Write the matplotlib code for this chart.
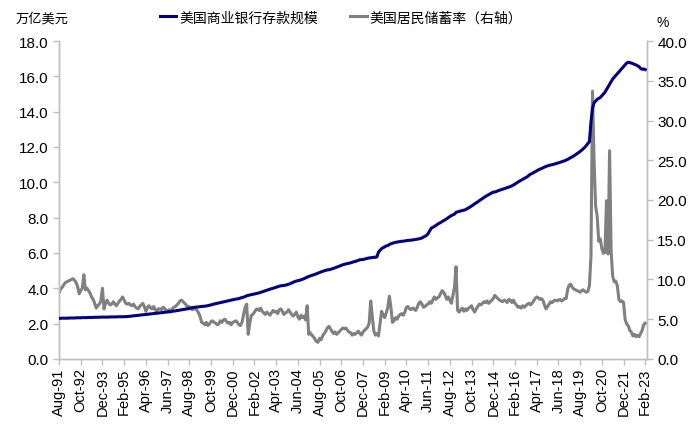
import matplotlib
matplotlib.use("Agg")
import matplotlib.pyplot as plt
import numpy as np
import pandas as pd

plt.rcParams['font.family'] = ['Liberation Sans', 'Noto Sans CJK SC', 'DejaVu Sans']

# Monthly data, Aug-1991 .. Feb-2023
deposits_by_year = {
    1991: [2.30, 2.30, 2.31, 2.31, 2.31],
    1992: [2.31, 2.31, 2.32, 2.32, 2.32, 2.32, 2.33, 2.33, 2.33, 2.33, 2.34, 2.34],
    1993: [2.34, 2.34, 2.35, 2.35, 2.35, 2.35, 2.36, 2.36, 2.36, 2.36, 2.37, 2.37],
    1994: [2.37, 2.37, 2.37, 2.37, 2.38, 2.38, 2.38, 2.38, 2.38, 2.39, 2.39, 2.39],
    1995: [2.39, 2.39, 2.40, 2.40, 2.41, 2.42, 2.43, 2.44, 2.45, 2.46, 2.47, 2.48],
    1996: [2.49, 2.50, 2.51, 2.52, 2.53, 2.54, 2.55, 2.56, 2.57, 2.58, 2.59, 2.60],
    1997: [2.61, 2.62, 2.63, 2.64, 2.65, 2.66, 2.67, 2.68, 2.70, 2.71, 2.72, 2.74],
    1998: [2.75, 2.77, 2.78, 2.80, 2.81, 2.83, 2.84, 2.86, 2.88, 2.90, 2.92, 2.93],
    1999: [2.94, 2.95, 2.96, 2.97, 2.98, 2.99, 3.00, 3.02, 3.04, 3.06, 3.09, 3.11],
    2000: [3.13, 3.15, 3.17, 3.19, 3.21, 3.23, 3.25, 3.27, 3.29, 3.31, 3.33, 3.35],
    2001: [3.37, 3.39, 3.40, 3.42, 3.45, 3.48, 3.50, 3.53, 3.58, 3.60, 3.62, 3.64],
    2002: [3.66, 3.68, 3.70, 3.72, 3.74, 3.77, 3.80, 3.83, 3.86, 3.89, 3.92, 3.95],
    2003: [3.98, 4.00, 4.03, 4.06, 4.09, 4.12, 4.14, 4.15, 4.16, 4.18, 4.20, 4.23],
    2004: [4.26, 4.30, 4.34, 4.38, 4.41, 4.43, 4.45, 4.48, 4.51, 4.55, 4.59, 4.63],
    2005: [4.67, 4.70, 4.73, 4.76, 4.79, 4.82, 4.86, 4.89, 4.93, 4.96, 4.99, 5.02],
    2006: [5.04, 5.05, 5.07, 5.10, 5.13, 5.16, 5.20, 5.23, 5.26, 5.30, 5.33, 5.36],
    2007: [5.38, 5.40, 5.42, 5.44, 5.47, 5.50, 5.52, 5.55, 5.58, 5.62, 5.62, 5.63],
    2008: [5.65, 5.68, 5.70, 5.72, 5.73, 5.74, 5.76, 5.75, 5.78, 6.05, 6.15, 6.25],
    2009: [6.30, 6.35, 6.40, 6.42, 6.48, 6.52, 6.55, 6.58, 6.60, 6.62, 6.63, 6.65],
    2010: [6.66, 6.67, 6.68, 6.70, 6.71, 6.72, 6.72, 6.74, 6.75, 6.77, 6.78, 6.80],
    2011: [6.82, 6.85, 6.90, 6.95, 7.00, 7.10, 7.25, 7.40, 7.45, 7.50, 7.56, 7.62],
    2012: [7.68, 7.72, 7.78, 7.83, 7.88, 7.94, 8.00, 8.06, 8.12, 8.16, 8.20, 8.30],
    2013: [8.33, 8.35, 8.38, 8.40, 8.42, 8.45, 8.50, 8.55, 8.60, 8.66, 8.72, 8.78],
    2014: [8.84, 8.90, 8.96, 9.02, 9.08, 9.14, 9.20, 9.25, 9.30, 9.35, 9.40, 9.45],
    2015: [9.45, 9.48, 9.52, 9.55, 9.58, 9.61, 9.64, 9.67, 9.70, 9.73, 9.76, 9.80],
    2016: [9.85, 9.90, 9.96, 10.02, 10.07, 10.12, 10.17, 10.22, 10.27, 10.32, 10.40, 10.46],
    2017: [10.50, 10.55, 10.60, 10.65, 10.70, 10.74, 10.78, 10.82, 10.86, 10.90, 10.93, 10.96],
    2018: [10.98, 11.00, 11.02, 11.05, 11.08, 11.10, 11.13, 11.16, 11.19, 11.22, 11.26, 11.30],
    2019: [11.35, 11.40, 11.45, 11.50, 11.56, 11.62, 11.68, 11.75, 11.82, 11.90, 11.98, 12.08],
    2020: [12.20, 12.30, 13.40, 14.20, 14.50, 14.60, 14.70, 14.75, 14.80, 14.90, 15.00, 15.10],
    2021: [15.25, 15.40, 15.55, 15.70, 15.85, 15.95, 16.05, 16.15, 16.25, 16.35, 16.45, 16.55],
    2022: [16.65, 16.75, 16.80, 16.78, 16.75, 16.72, 16.68, 16.65, 16.60, 16.55, 16.45, 16.40],
    2023: [16.42, 16.38],
}

saving_rate_by_year = {
    1991: [8.3, 8.8, 9.0, 9.3, 9.6],
    1992: [9.7, 9.8, 9.9, 10.0, 10.1, 9.9, 9.6, 9.1, 8.2, 8.6, 8.9, 10.6],
    1993: [8.7, 8.9, 8.6, 8.3, 7.8, 7.5, 7.0, 6.4, 6.7, 6.9, 7.3, 8.9],
    1994: [6.3, 7.0, 7.4, 7.0, 6.8, 6.9, 7.2, 6.9, 6.7, 7.0, 7.3, 7.5],
    1995: [7.8, 7.4, 7.0, 6.9, 7.0, 6.8, 6.7, 6.9, 6.6, 6.4, 6.3, 6.6],
    1996: [6.8, 7.0, 6.6, 6.0, 6.5, 6.7, 6.4, 6.3, 6.6, 6.2, 6.0, 6.3],
    1997: [6.3, 6.2, 6.5, 6.4, 6.1, 6.0, 6.2, 5.9, 6.3, 6.5, 6.6, 6.8],
    1998: [7.0, 7.3, 7.4, 7.2, 7.0, 6.8, 6.5, 6.6, 6.4, 6.2, 6.3, 6.4],
    1999: [6.1, 5.8, 5.3, 4.6, 4.5, 4.3, 4.6, 4.2, 4.4, 4.7, 4.8, 4.6],
    2000: [4.5, 4.3, 4.4, 4.8, 4.6, 4.9, 5.0, 4.7, 4.5, 4.6, 4.3, 4.6],
    2001: [4.7, 4.8, 4.6, 4.3, 4.2, 4.6, 5.6, 6.5, 6.9, 3.1, 4.5, 5.5],
    2002: [5.6, 5.9, 6.2, 6.3, 6.1, 6.4, 6.0, 5.8, 5.6, 5.9, 5.7, 5.5],
    2003: [5.8, 6.1, 5.9, 6.0, 5.7, 6.2, 6.3, 6.0, 5.6, 5.8, 5.9, 6.2],
    2004: [5.9, 5.6, 5.4, 5.6, 5.9, 5.3, 5.0, 5.5, 5.2, 5.4, 4.9, 6.7],
    2005: [3.1, 3.3, 3.0, 2.8, 2.5, 2.2, 2.1, 2.6, 2.4, 2.9, 3.2, 3.5],
    2006: [3.9, 4.1, 3.8, 3.5, 3.2, 3.4, 3.1, 3.3, 3.5, 3.7, 3.9, 3.8],
    2007: [3.9, 3.6, 3.4, 3.3, 3.0, 3.2, 3.1, 3.3, 3.5, 3.2, 3.0, 3.4],
    2008: [3.6, 3.8, 4.0, 4.5, 7.3, 5.3, 3.5, 3.0, 3.2, 2.9, 4.5, 6.0],
    2009: [5.5, 5.2, 5.8, 6.5, 7.9, 6.5, 4.6, 4.8, 5.2, 5.0, 5.4, 5.6],
    2010: [5.7, 5.5, 5.9, 6.5, 6.6, 6.3, 6.2, 6.4, 6.3, 6.1, 6.5, 7.0],
    2011: [7.2, 6.9, 6.5, 6.6, 6.8, 6.9, 7.2, 7.0, 7.4, 7.8, 7.5, 7.7],
    2012: [7.8, 8.2, 8.6, 8.4, 8.0, 7.5, 7.8, 7.4, 7.0, 8.0, 9.0, 11.6],
    2013: [6.1, 5.9, 6.2, 6.4, 6.0, 6.3, 6.1, 6.4, 6.5, 6.7, 6.2, 5.9],
    2014: [6.3, 6.6, 6.9, 6.8, 7.0, 7.2, 7.1, 7.3, 7.0, 7.2, 7.4, 7.6],
    2015: [8.0, 7.8, 7.6, 7.4, 7.3, 7.2, 7.4, 7.3, 7.1, 7.5, 7.4, 7.1],
    2016: [7.4, 7.0, 6.8, 6.5, 6.6, 6.4, 6.7, 6.5, 6.7, 6.9, 7.0, 6.8],
    2017: [7.0, 7.3, 7.6, 7.8, 7.7, 7.5, 7.6, 7.4, 6.8, 6.3, 6.6, 6.9],
    2018: [7.2, 7.1, 7.3, 7.4, 7.3, 7.4, 7.5, 7.3, 7.4, 7.6, 7.6, 8.8],
    2019: [9.3, 9.4, 9.0, 8.8, 8.7, 8.6, 8.5, 8.4, 8.6, 8.7, 8.5, 8.4],
    2020: [8.5, 9.2, 12.9, 33.7, 24.9, 19.2, 18.0, 14.8, 15.1, 13.9, 13.3, 13.4],
    2021: [19.9, 13.2, 26.2, 13.5, 10.4, 9.7, 9.8, 9.2, 7.5, 7.2, 7.3, 7.1],
    2022: [5.0, 4.4, 4.2, 3.6, 3.4, 2.9, 3.1, 2.8, 3.0, 2.8, 3.2, 3.6],
    2023: [4.3, 4.5],
}

deposits = [v for y in sorted(deposits_by_year) for v in deposits_by_year[y]]
saving_rate = [v for y in sorted(saving_rate_by_year) for v in saving_rate_by_year[y]]
dates = pd.date_range("1991-08-01", periods=len(deposits), freq="MS")
labels_all = [d.strftime("%b-%y") for d in dates]

series1_name = "美国商业银行存款规模"
series2_name = "美国居民储蓄率（右轴）"

fig = plt.figure(figsize=(7.0, 4.27), dpi=100)
ax = fig.add_axes([0.0843, 0.157, 0.924 - 0.0843, 0.9016 - 0.157])
ax2 = ax.twinx()

x = np.arange(len(deposits))
l1, = ax.plot(x, deposits, color="#000080", lw=2.2, zorder=3)
l2, = ax2.plot(x, saving_rate, color="#808080", lw=2.2, zorder=2)
ax.set_zorder(ax2.get_zorder() + 1)
ax.patch.set_visible(False)

ax.set_xlim(0, len(deposits))
ax.set_ylim(0, 18)
ax2.set_ylim(0, 40)
ax.set_yticks(np.arange(0, 18.1, 2))
ax.set_yticklabels([f"{v:.1f}" for v in np.arange(0, 18.1, 2)])
ax2.set_yticks(np.arange(0, 40.1, 5))
ax2.set_yticklabels([f"{v:.1f}" for v in np.arange(0, 40.1, 5)])

tick_idx = list(range(0, len(deposits), 14))
ax.set_xticks(tick_idx)
ax.set_xticklabels([labels_all[i] for i in tick_idx], rotation=90)

spine_col = "#BFBFBF"
for a in (ax, ax2):
    a.spines["top"].set_visible(False)
    for s in ("left", "right", "bottom"):
        a.spines[s].set_color(spine_col)
        a.spines[s].set_linewidth(1.0)
ax.tick_params(axis="both", colors=spine_col, labelcolor="black", labelsize=11, length=4, width=1)
ax.tick_params(axis="x", labelsize=10.5, pad=2)
ax2.tick_params(axis="y", colors=spine_col, labelcolor="black", labelsize=11, length=4, width=1)

fig.text(0.022, 0.955, "万亿美元", fontsize=9.5, ha="left", va="center")
fig.text(0.947, 0.945, "%", fontsize=10, ha="center", va="center")

fig.legend([l1, l2], [series1_name, series2_name], loc="center", ncol=2,
           bbox_to_anchor=(0.487, 0.957), frameon=False, fontsize=10,
           handlelength=1.2, handletextpad=0.2, columnspacing=2.3)

fig.savefig("out.png", dpi=100)
